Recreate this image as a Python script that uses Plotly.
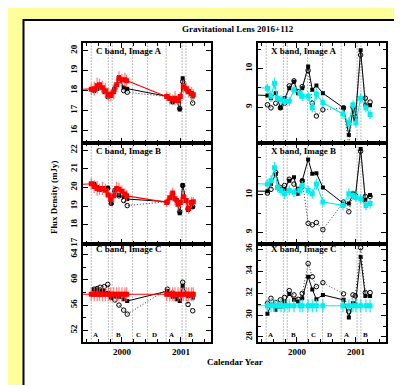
import plotly.graph_objects as go

W, H = 402, 385

# ---------------- data ----------------
# C band: epochs for the black (filled squares) and open-circle series
C_ep = [1999.53, 1999.58, 1999.63, 1999.70, 1999.76, 1999.82, 1999.88, 1999.95, 2000.03, 2000.09,
        2000.77, 2000.86, 2000.93, 2000.98, 2001.03, 2001.12, 2001.20]
CA_black = [18.05, 18.15, 18.20, 18.00, 17.75, 17.85, 18.15, 18.67, 18.16, 18.10, 17.71, 17.42, 17.55, 17.05, 18.62, 18.00, 17.71]
CA_circ = [18.00, 18.10, 18.20, 17.95, 17.70, 17.80, 18.10, 18.50, 18.00, 17.92, 17.70, 17.45, 17.50, 17.10, 18.45, 17.95, 17.38]
CB_black = [20.20, 20.00, 19.95, 19.95, 19.98, 19.15, 19.86, 19.60, 19.50, 19.38, 19.24, 19.55, 19.30, 18.62, 20.13, 18.80, 18.97]
CB_circ = [20.15, 20.00, 19.90, 19.90, 19.95, 19.15, 19.80, 19.55, 19.30, 19.03, 19.24, 19.50, 19.30, 18.70, 20.10, 18.85, 18.97]
CC_black = [58.47, 58.45, 58.30, 58.20, 57.90, 57.15, 57.40, 57.30, 56.90, 56.64, 58.20, 57.30, 56.90, 56.64, 59.00, 57.40, 57.15]
CC_circ = [58.50, 58.60, 58.80, 58.90, 59.25, 57.30, 56.80, 56.00, 55.20, 54.57, 58.50, 57.90, 57.50, 57.20, 59.60, 56.10, 55.10]

# C band: red series (with errors); first epoch lies before the plotted range
Cr_ep = [1999.20, 1999.48, 1999.53, 1999.58, 1999.62, 1999.67, 1999.72, 1999.77, 1999.81, 1999.86, 1999.91, 1999.95, 2000.00,
         2000.05, 2000.08, 2000.76, 2000.81, 2000.86, 2000.90, 2000.95, 2000.99, 2001.04, 2001.09, 2001.13, 2001.18, 2001.21]
CA_red = [18.05, 18.07, 18.10, 18.25, 18.30, 18.15, 18.00, 17.80, 17.75, 17.95, 18.30, 18.62, 18.55,
          18.55, 18.50, 17.70, 17.60, 17.55, 17.62, 17.50, 17.70, 18.20, 18.10, 17.96, 17.85, 17.79]
CA_red_err = [0.30, 0.30, 0.35, 0.40, 0.30, 0.35, 0.40, 0.35, 0.30, 0.40, 0.35, 0.35, 0.30,
              0.35, 0.30, 0.25, 0.30, 0.25, 0.35, 0.30, 0.25, 0.35, 0.30, 0.30, 0.35, 0.30]
CB_red = [20.15, 20.20, 20.05, 19.95, 19.90, 19.95, 19.85, 19.60, 19.35, 19.55, 19.95, 19.90, 19.80,
          19.65, 19.55, 19.20, 19.45, 19.70, 19.40, 19.10, 19.20, 19.50, 19.30, 18.88, 19.20, 19.24]
CB_red_err = [0.30, 0.30, 0.35, 0.40, 0.30, 0.35, 0.35, 0.35, 0.30, 0.40, 0.35, 0.35, 0.30,
              0.30, 0.30, 0.25, 0.30, 0.30, 0.35, 0.30, 0.25, 0.35, 0.30, 0.30, 0.30, 0.25]
CC_red = [57.7, 57.7, 57.7, 57.7, 57.7, 57.7, 57.7, 57.7, 57.7, 57.7, 57.7, 57.7, 57.7,
          57.7, 57.7, 57.7, 57.7, 57.7, 57.7, 57.7, 57.7, 57.7, 57.7, 57.7, 57.7, 57.7]
CC_red_err = [1.1, 1.1, 1.1, 1.1, 1.1, 1.1, 1.1, 1.1, 1.1, 1.1, 1.1, 1.1, 1.1,
              1.1, 1.1, 1.1, 1.1, 1.1, 1.1, 1.1, 1.1, 1.1, 1.1, 1.1, 1.1, 1.1]

# X band: epochs for black and open-circle series (first epoch before the plotted range)
X_ep = [1999.20, 1999.50, 1999.56, 1999.64, 1999.72, 1999.79, 1999.87, 1999.95, 2000.02, 2000.09, 2000.19,
        2000.26, 2000.33, 2000.44, 2000.79, 2000.88, 2000.95, 2000.99, 2001.08, 2001.16, 2001.24]
XA_black = [9.32, 9.30, 9.23, 9.36, 8.98, 9.23, 9.49, 9.66, 9.36, 9.49, 10.05, 9.45, 9.56, 9.36, 8.98, 8.28, 8.93, 8.68, 10.47, 9.06, 9.05]
XA_circ = [None, 9.06, 8.98, 9.10, 8.98, 9.10, 9.55, 9.68, 9.40, 9.53, 9.95, 9.10, 8.77, 8.93, 8.98, 8.00, 9.00, 8.75, 10.35, 9.23, 9.13]
XB_black = [10.10, 10.10, 10.29, 10.56, 10.16, 10.16, 10.38, 10.47, 10.03, 10.38, 10.95, 10.57, 10.58, 10.20, 9.77, 9.77, 10.03, 9.94, 11.23, 9.86, 10.00]
XB_circ = [None, 10.05, 10.15, 10.60, 10.20, 10.25, 10.42, 10.29, 10.15, 10.38, 9.24, 9.20, 9.26, 9.07, 9.81, 9.55, 10.03, 9.99, 11.17, 9.96, 9.96]
XC_black = [None, 30.12, 30.93, 30.48, 30.78, 31.20, 31.92, 31.38, 31.23, 31.53, 33.48, 32.33, 31.43, 31.83, 31.38, 29.78, 31.07, 30.93, 35.28, 31.74, 31.74]
XC_circ = [None, 31.07, 31.52, 31.13, 31.38, 31.60, 32.22, 31.83, 31.43, 31.97, 34.68, 33.48, 32.58, 32.94, 31.92, 30.30, 31.83, 31.74, 36.12, 32.04, 32.04]

# X band: cyan series (with errors)
Xc_ep = [1999.20, 1999.50, 1999.56, 1999.62, 1999.67, 1999.73, 1999.79, 1999.87, 1999.95, 2000.05, 2000.09,
         2000.19, 2000.26, 2000.33, 2000.44, 2000.78, 2000.88, 2000.95, 2001.00, 2001.08, 2001.17, 2001.24]
XA_cyan = [9.52, 9.49, 9.28, 9.62, 9.23, 9.19, 9.15, 9.15, 9.45, 9.36, 9.28, 9.28, 8.98, 9.34, 9.11, 8.82, 8.59, 9.06, 8.59, 9.23, 8.98, 8.81]
XA_cyan_err = [0.12, 0.12, 0.15, 0.15, 0.12, 0.12, 0.12, 0.12, 0.12, 0.15, 0.12, 0.12, 0.12, 0.15, 0.12, 0.12, 0.15, 0.12, 0.12, 0.12, 0.12, 0.12]
XB_cyan = [10.31, 10.29, 10.38, 10.73, 10.20, 10.12, 10.03, 10.12, 10.07, 10.12, 10.25, 10.12, 10.03, 10.29, 9.81, 9.72, 10.03, 9.99, 9.94, 9.90, 9.72, 9.77]
XB_cyan_err = [0.13, 0.13, 0.15, 0.15, 0.13, 0.13, 0.13, 0.13, 0.13, 0.15, 0.13, 0.13, 0.13, 0.15, 0.13, 0.13, 0.15, 0.13, 0.13, 0.13, 0.13, 0.13]
XC_cyan = [30.84, 30.84, 30.84, 30.84, 30.84, 30.84, 30.84, 30.84, 30.84, 30.84, 30.84,
           30.84, 30.84, 30.84, 30.84, 30.84, 30.84, 30.84, 30.84, 30.84, 30.84, 30.84]
XC_cyan_err = [0.6, 0.6, 0.6, 0.6, 0.6, 0.6, 0.6, 0.6, 0.6, 0.6, 0.6,
               0.6, 0.6, 0.6, 0.6, 0.6, 0.6, 0.6, 0.6, 0.6, 0.6, 0.6]

# VLA configuration boundaries and labels
config_bounds = [1999.48, 1999.77, 1999.835, 2000.18, 2000.435, 2000.75, 2001.02, 2001.085]
config_labels = ["A", "B", "C", "D", "A", "B"]
config_pos = [1999.555, 1999.95, 2000.275, 2000.555, 2000.84, 2001.17]

x_range = [1999.34, 2001.51]
year_ticks = [2000, 2001]
year_labels = ["2000", "2001"]

panel_titles = ["C band, Image A", "C band, Image B", "C band, Image C",
                "X band, Image A", "X band, Image B", "X band, Image C"]

# ---------------- layout geometry (pixels) ----------------
def px_x(p):
    return p / W

def px_y(p):
    return 1 - p / H

left_dom = [px_x(75), px_x(203)]
right_dom = [px_x(250), px_x(378)]
row_doms = [[px_y(135), px_y(34)], [px_y(237), px_y(135)], [px_y(337), px_y(237)]]

FONT = "Liberation Serif"
RED, RED_ERR = "#FF0000", "rgba(255,90,90,0.75)"
CYAN, CYAN_ERR = "#00EEEE", "rgba(0,235,235,0.85)"

panels = [
    dict(xd=left_dom, yd=row_doms[0], yr=[15.4, 20.4], tv=[16, 17, 18, 19, 20], minor=None,
         bx=C_ep, by=CA_black, cy=CA_circ, sx=Cr_ep, sy=CA_red, se=CA_red_err, col=RED, ecol=RED_ERR),
    dict(xd=left_dom, yd=row_doms[1], yr=[17.0, 22.4], tv=[17, 18, 19, 20, 21, 22], minor=None,
         bx=C_ep, by=CB_black, cy=CB_circ, sx=Cr_ep, sy=CB_red, se=CB_red_err, col=RED, ecol=RED_ERR),
    dict(xd=left_dom, yd=row_doms[2], yr=[50.1, 65.7], tv=[52, 56, 60, 64], minor=2,
         bx=C_ep, by=CC_black, cy=CC_circ, sx=Cr_ep, sy=CC_red, se=CC_red_err, col=RED, ecol=RED_ERR),
    dict(xd=right_dom, yd=row_doms[0], yr=[8.08, 10.67], tv=[9, 10], minor=0.5,
         bx=X_ep, by=XA_black, cy=XA_circ, sx=Xc_ep, sy=XA_cyan, se=XA_cyan_err, col=CYAN, ecol=CYAN_ERR),
    dict(xd=right_dom, yd=row_doms[1], yr=[8.7, 11.4], tv=[9, 10], minor=0.5,
         bx=X_ep, by=XB_black, cy=XB_circ, sx=Xc_ep, sy=XB_cyan, se=XB_cyan_err, col=CYAN, ecol=CYAN_ERR),
    dict(xd=right_dom, yd=row_doms[2], yr=[27.5, 36.5], tv=[28, 30, 32, 34, 36], minor=1,
         bx=X_ep, by=XC_black, cy=XC_circ, sx=Xc_ep, sy=XC_cyan, se=XC_cyan_err, col=CYAN, ecol=CYAN_ERR),
]

fig = go.Figure()
layout = {}
shapes = []
annotations = []

# white page box with black border
shapes.append(dict(type="rect", xref="paper", yref="paper",
                   x0=px_x(15.5), x1=1.05, y0=-0.05, y1=px_y(11),
                   fillcolor="white", line=dict(color="black", width=2), layer="below"))

for i, p in enumerate(panels):
    n = i + 1
    xa = "x" if n == 1 else f"x{n}"
    ya = "y" if n == 1 else f"y{n}"
    xkey = "xaxis" if n == 1 else f"xaxis{n}"
    ykey = "yaxis" if n == 1 else f"yaxis{n}"
    bottom = (i % 3 == 2)

    layout[xkey] = dict(domain=p["xd"], anchor=ya, range=x_range, tickvals=year_ticks,
                        ticktext=year_labels, showticklabels=bottom, ticks="inside", ticklen=5,
                        tickwidth=1, tickcolor="black", showline=True, linecolor="black",
                        linewidth=2, mirror="allticks", showgrid=False, zeroline=False,
                        minor=dict(dtick=0.2, tick0=2000, ticks="inside", ticklen=3,
                                   tickcolor="black", showgrid=False),
                        tickfont=dict(family=FONT, size=9, color="black", weight="bold"))
    ydict = dict(domain=p["yd"], anchor=xa, range=p["yr"], tickvals=p["tv"],
                 ticks="inside", ticklen=5, tickwidth=1, tickcolor="black", showline=True,
                 linecolor="black", linewidth=2, mirror="allticks", showgrid=False,
                 zeroline=False, tickangle=-90,
                 tickfont=dict(family=FONT, size=9, color="black", weight="bold"))
    if p["minor"]:
        ydict["minor"] = dict(dtick=p["minor"], ticks="inside", ticklen=3,
                              tickcolor="black", showgrid=False)
    layout[ykey] = ydict

    # configuration boundaries
    for b in config_bounds:
        shapes.append(dict(type="line", xref=xa, yref=f"{ya} domain", x0=b, x1=b, y0=0, y1=1,
                           line=dict(color="#7a7a7a", width=1, dash="1px,2px"), layer="below"))

    # black filled squares (solid line)
    fig.add_trace(go.Scatter(x=p["bx"], y=p["by"], xaxis=xa, yaxis=ya, mode="lines+markers",
                             line=dict(color="black", width=1),
                             marker=dict(symbol="square", size=4, color="black"),
                             showlegend=False, connectgaps=False))
    # open circles (dotted line)
    fig.add_trace(go.Scatter(x=p["bx"], y=p["cy"], xaxis=xa, yaxis=ya, mode="lines+markers",
                             line=dict(color="#333333", width=1, dash="1px,2px"),
                             marker=dict(symbol="circle-open", size=4.5, color="black",
                                         line=dict(width=1, color="black")),
                             showlegend=False, connectgaps=False))
    # coloured series with error bars
    fig.add_trace(go.Scatter(x=p["sx"], y=p["sy"], xaxis=xa, yaxis=ya, mode="lines+markers",
                             line=dict(color=p["col"], width=1.1),
                             marker=dict(symbol="square", size=5, color=p["col"]),
                             error_y=dict(type="data", array=p["se"], color=p["ecol"],
                                          thickness=1.3, width=0),
                             showlegend=False))

    # panel title
    tx = 86 if i < 3 else 261
    ty = [42, 143, 243][i % 3]
    annotations.append(dict(text=panel_titles[i], xref="paper", yref="paper",
                            x=px_x(tx), y=px_y(ty), xanchor="left", yanchor="middle",
                            showarrow=False,
                            font=dict(family=FONT, size=9, color="black", weight="bold")))
    # configuration letters on bottom panels
    if bottom:
        for lab, pos in zip(config_labels, config_pos):
            annotations.append(dict(text=lab, xref=xa, yref="paper", x=pos, y=px_y(329),
                                    xanchor="center", yanchor="middle", showarrow=False,
                                    font=dict(family=FONT, size=7, color="black", weight="bold")))

annotations.append(dict(text="Gravitational Lens 2016+112", xref="paper", yref="paper",
                        x=px_x(230), y=px_y(20), xanchor="center", yanchor="middle",
                        showarrow=False,
                        font=dict(family=FONT, size=9, color="black", weight="bold")))
annotations.append(dict(text="Calendar Year", xref="paper", yref="paper",
                        x=px_x(227), y=px_y(357), xanchor="center", yanchor="middle",
                        showarrow=False,
                        font=dict(family=FONT, size=9, color="black", weight="bold")))
annotations.append(dict(text="Flux Density (mJy)", xref="paper", yref="paper",
                        x=px_x(46), y=px_y(190), xanchor="center", yanchor="middle",
                        textangle=-90, showarrow=False,
                        font=dict(family=FONT, size=9, color="black", weight="bold")))

fig.update_layout(width=W, height=H, margin=dict(l=0, r=0, t=0, b=0),
                  paper_bgcolor="#FFFF99", plot_bgcolor="white",
                  shapes=shapes, annotations=annotations, showlegend=False, **layout)

fig.write_html("out.html", config={"displayModeBar": False})
